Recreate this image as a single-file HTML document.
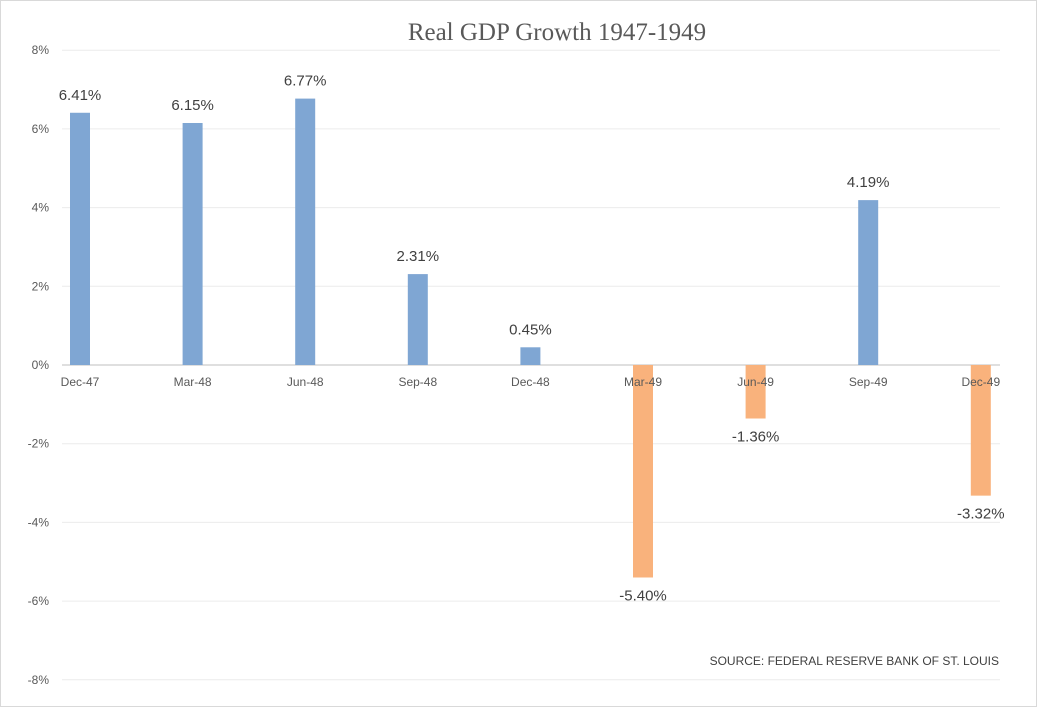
<!DOCTYPE html>
<html><head><meta charset="utf-8"><style>
body{margin:0;background:#fff}
svg{display:block;font-family:"Liberation Sans",Calibri,sans-serif}
</style></head><body>
<svg width="1037" height="707" viewBox="0 0 1037 707">
<rect x="0.5" y="0.5" width="1036" height="706" fill="#fff" stroke="#d9d9d9"/>
<text x="557" y="40" text-anchor="middle" font-family="'Liberation Serif',Cambria,serif" font-size="25" fill="#595959">Real GDP Growth 1947-1949</text>
<g id="grid"></g><g id="bars"></g><g id="labels"></g>
<text x="999" y="665" text-anchor="end" font-size="12" fill="#404040">SOURCE:  FEDERAL RESERVE BANK OF ST. LOUIS</text>
</svg>
<script>
const categories=["Dec-47","Mar-48","Jun-48","Sep-48","Dec-48","Mar-49","Jun-49","Sep-49","Dec-49"];
const values=[6.41,6.15,6.77,2.31,0.45,-5.40,-1.36,4.19,-3.32];
const yTicks=[8,6,4,2,0,-2,-4,-6,-8];
const NS="http://www.w3.org/2000/svg";
const y=v=>365-v*39.35;
const x=i=>80+i*112.6;
function mk(t,a,p){const e=document.createElementNS(NS,t);for(const k in a)e.setAttribute(k,a[k]);p.appendChild(e);return e;}
const grid=document.getElementById('grid'),bars=document.getElementById('bars'),labels=document.getElementById('labels');
yTicks.forEach(t=>{
 const l=mk('line',{x1:62,x2:1000,y1:y(t),y2:y(t),stroke:t===0?'#bfbfbf':'#ececec','stroke-width':1},grid);
 
 
 const tx=mk('text',{x:49,y:y(t)+4,'text-anchor':'end','font-size':12,fill:'#595959'},grid);
 tx.textContent=t+'%';
 
 
});
categories.forEach((c,i)=>{
 const v=values[i];
 const tx=mk('text',{x:x(i),y:y(0)+21,'text-anchor':'middle','font-size':12,fill:'#595959'},labels);
 tx.textContent=c;
 
 
 const top=Math.min(y(v),y(0)),h=Math.abs(y(v)-y(0));
 const r=mk('rect',{x:x(i)-10,y:top,width:20,height:h,fill:v>=0?'#7fa6d3':'#f9b27c'},bars);
 
 
 const vl=mk('text',{x:x(i),y:v>=0?y(v)-13:y(v)+23,'text-anchor':'middle','font-size':15,fill:'#404040'},labels);
 vl.textContent=v.toFixed(2)+'%';
 
 
});
</script>
</body></html>
